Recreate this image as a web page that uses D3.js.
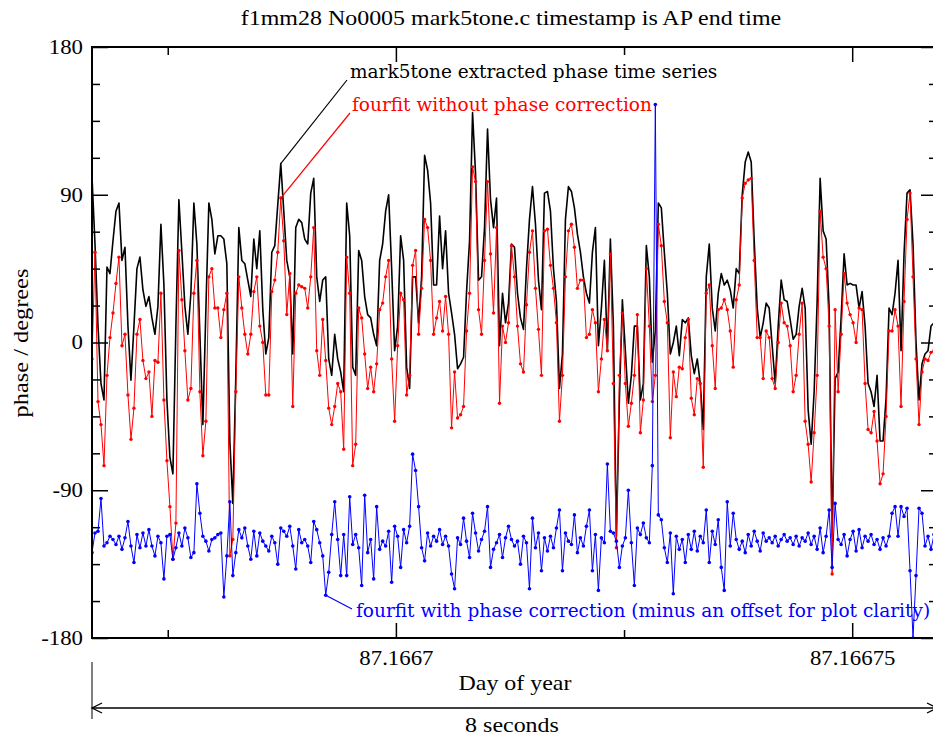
<!DOCTYPE html>
<html><head><meta charset="utf-8">
<script src="https://cdn.jsdelivr.net/npm/d3@7"></script>
<style>
html,body{margin:0;padding:0;background:#fff;}
svg{display:block;}
</style></head>
<body>
<script>
// Phase time series, 8 s of data starting at day 87.1666667 (04:00:00 UT)
const startDay = 87.1666667;
const spanSeconds = 8;
const sampleCount = 282;

// mark5tone extracted phase (degrees)
const mark5tonePhase = [
101,60,10,-25,-35,46,42,62,80,85,
50,58,10,-23,10,45,52,32,22,28,
15,5,22,72,35,-35,-70,-80,10,87,
55,22,5,30,85,60,5,-50,20,85,
75,54,65,65,63,48,-60,-98,-20,70,
50,48,38,28,63,45,68,20,-7,3,
55,59,84,109,80,50,40,-7,70,75,
73,63,60,91,100,40,25,38,40,-10,
-20,5,-10,-18,-30,85,65,-15,-20,56,
50,28,17,15,5,-2,50,60,80,90,
45,-5,10,65,50,-15,-28,40,40,12,
40,114,105,85,35,35,77,45,68,30,
18,5,-16,-13,-9,31,62,140,103,38,
40,70,130,87,70,88,-2,30,12,24,
60,58,30,15,8,45,75,95,72,38,
20,91,92,80,45,25,-28,-7,75,95,
92,82,66,55,40,30,24,55,70,-2,
21,50,-5,63,10,-118,-35,26,-5,-37,
-20,10,10,-35,-25,59,40,-12,7,85,
82,55,30,-7,0,10,-8,14,12,15,
-8,-19,-10,-25,-53,40,60,21,7,30,
42,35,38,32,21,45,42,90,110,116,
110,62,21,3,12,24,21,-2,-25,10,
38,26,25,14,2,5,22,33,21,-41,
-62,-30,25,100,68,63,21,-118,-22,-18,
15,54,35,36,35,35,21,31,10,-25,
-30,-39,-20,-60,-60,-34,21,17,30,50,
-5,54,91,93,60,0,-35,-13,-7,-5,
10,12
];

// fourfit phase without phase correction (degrees)
const fourfitRaw = [
-10,55,-36,-50,-75,-20,3,18,36,52,
-2,5,-32,-59,-40,5,14,-11,-22,-18,
-45,-11,-12,30,-35,-72,-100,-132,-110,56,
26,-5,-35,-28,30,50,-30,-69,-48,40,
45,21,21,3,20,30,-130,-120,-30,40,
21,5,-7,5,31,40,10,0,-32,-32,
31,38,55,88,62,17,42,-39,30,35,
34,33,21,40,70,-5,-20,14,-11,-40,
-50,-39,-25,-30,-65,52,30,-75,-62,21,
15,-7,-28,-15,-30,-13,20,24,40,50,
-10,-48,-2,30,26,-32,-20,47,56,5,
33,75,70,50,5,15,25,7,28,5,
-52,-18,-46,-44,-39,7,30,107,98,20,
5,50,98,54,18,70,-37,10,0,12,
59,40,10,-13,-18,23,55,68,33,8,
-20,68,69,47,33,12,-48,-20,40,68,
72,58,33,38,38,3,5,20,12,-30,
-10,14,-5,54,-25,-125,-20,18,-25,-51,
-37,-20,17,-55,-35,45,10,-36,-20,72,
59,25,12,-58,-18,-33,-15,-16,3,14,
-34,-44,-22,-25,-76,30,35,-2,-28,20,
21,26,20,7,-15,26,35,88,97,99,
100,50,3,3,-22,7,3,-22,-28,0,
24,12,10,-2,-30,-20,5,24,-48,-62,
-85,-55,-20,80,52,45,10,-141,20,-30,
5,42,24,17,12,0,21,20,-25,-53,
-55,-42,-60,-86,-80,-45,7,7,20,10,
-39,25,75,91,40,-10,-50,-18,-10,-11,
-6,-5
];

// fourfit phase with phase correction, offset downward (degrees)
const fourfitCorrected = [
-128,-116,-115,-95,-124,-122,-118,-120,-123,-118,
-126,-119,-109,-124,-134,-117,-125,-116,-124,-114,
-124,-130,-118,-122,-144,-118,-117,-132,-125,-116,
-124,-113,-119,-131,-128,-86,-104,-118,-121,-127,
-120,-119,-117,-116,-155,-130,-97,-142,-128,-114,
-119,-113,-124,-132,-115,-130,-116,-121,-124,-127,
-118,-122,-135,-113,-115,-118,-112,-124,-138,-114,
-122,-120,-124,-134,-109,-114,-122,-130,-154,-140,
-117,-97,-120,-142,-117,-142,-94,-123,-117,-125,
-148,-93,-128,-120,-144,-100,-126,-121,-124,-115,
-146,-112,-118,-137,-114,-122,-112,-68,-78,-100,
-125,-133,-116,-124,-118,-121,-114,-123,-118,-124,
-141,-150,-119,-123,-107,-121,-131,-104,-116,-127,
-120,-115,-100,-137,-126,-122,-117,-131,-119,-112,
-120,-124,-121,-135,-118,-122,-150,-107,-125,-116,
-139,-119,-127,-118,-125,-113,-102,-139,-116,-121,
-123,-105,-128,-119,-124,-112,-102,-139,-117,-151,
-119,-122,-74,-115,-116,-121,-137,-124,-119,-90,
-122,-148,-113,-117,-110,-119,-122,-75,145,-105,
-108,-125,-134,-116,-153,-118,-126,-120,-134,-117,
-126,-115,-127,-118,-122,-102,-134,-115,-123,-108,
-137,-151,-97,-124,-104,-120,-126,-121,-128,-117,
-124,-115,-121,-127,-116,-121,-119,-122,-118,-124,
-120,-117,-121,-119,-123,-118,-124,-119,-121,-116,
-123,-118,-126,-113,-128,-118,-102,-137,-98,-120,
-123,-117,-130,-120,-115,-127,-114,-125,-118,-121,
-117,-123,-120,-126,-119,-124,-118,-104,-100,-118,
-100,-106,-101,-139,-180,-142,-101,-104,-124,-118,
-126,-117
];

// Axis ticks
const xMajorTicks = [87.1667, 87.16675];
const xMinorTicks = [87.166675, 87.166725];
const yMajorTicks = [-180, -90, 0, 90, 180];
const yMinorTicks = [-157.5, -135, -112.5, -67.5, -45, -22.5, 22.5, 45, 67.5, 112.5, 135, 157.5];

const W = 933, H = 738;
const plot = {left: 92, top: 47, right: 937, bottom: 638};
const serif = "'Liberation Serif','Times New Roman',serif";
const wideSerif = "'DejaVu Serif',serif";
const serifStretch = 1.14;

const sampleStep = spanSeconds / 86400 / sampleCount;
const days = d3.range(sampleCount).map(i => startDay + i * sampleStep);

const x = d3.scaleLinear().domain([startDay, startDay + spanSeconds / 86400]).range([plot.left, plot.right]);
const y = d3.scaleLinear().domain([-180, 180]).range([plot.bottom, plot.top]);

const svg = d3.select("body").append("svg").attr("width", W).attr("height", H)
  .style("font-family", serif);

// Widen Times-style text horizontally
function widen(sel, k) {
  sel.each(function () {
    const w = this.getComputedTextLength();
    d3.select(this).attr("textLength", w * k).attr("lengthAdjust", "spacingAndGlyphs");
  });
}

svg.append("defs").append("clipPath").attr("id", "plotClip")
  .append("rect").attr("x", plot.left).attr("y", plot.top)
  .attr("width", plot.right - plot.left).attr("height", plot.bottom - plot.top);

// Title
svg.append("text").attr("x", 511).attr("y", 25).attr("text-anchor", "middle")
  .attr("font-size", 21).text("f1mm28 No0005 mark5tone.c timestamp is AP end time")
  .call(widen, serifStretch);

// Series
const seriesLayer = svg.append("g").attr("clip-path", "url(#plotClip)");
function drawSeries(values, color, width, markerR) {
  const pts = values.map((v, i) => [days[i], v]);
  const line = d3.line().x(d => x(d[0])).y(d => y(d[1]));
  seriesLayer.append("path").datum(pts).attr("fill", "none")
    .attr("stroke", color).attr("stroke-width", width)
    .attr("stroke-linejoin", "round").attr("d", line);
  if (markerR > 0) {
    seriesLayer.append("g").selectAll("circle").data(pts).join("circle")
      .attr("cx", d => x(d[0])).attr("cy", d => y(d[1])).attr("r", markerR)
      .attr("fill", color);
  }
}
drawSeries(mark5tonePhase, "#000", 1.6, 0);
drawSeries(fourfitRaw, "#ff0000", 1, 1.7);
drawSeries(fourfitCorrected, "#0000ff", 1, 1.8);

// Axes with inward ticks on all four sides
function styleAxis(g) {
  g.select(".domain").remove();
  g.selectAll(".tick line").attr("stroke", "#000").attr("stroke-width", 1.5);
  g.selectAll(".tick text").attr("fill", "#000").style("font-family", serif).attr("font-size", 20)
    .call(widen, serifStretch);
}
svg.append("g").attr("transform", `translate(${plot.left},0)`)
  .call(d3.axisLeft(y).tickValues(yMajorTicks).tickSize(-16).tickPadding(9).tickFormat(d => String(d)))
  .call(styleAxis);
svg.append("g").attr("transform", `translate(${plot.left},0)`)
  .call(d3.axisLeft(y).tickValues(yMinorTicks).tickSize(-8).tickFormat(""))
  .call(styleAxis);
svg.append("g").attr("transform", `translate(${plot.right},0)`)
  .call(d3.axisRight(y).tickValues(yMajorTicks).tickSize(-16).tickFormat(""))
  .call(styleAxis);
svg.append("g").attr("transform", `translate(${plot.right},0)`)
  .call(d3.axisRight(y).tickValues(yMinorTicks).tickSize(-8).tickFormat(""))
  .call(styleAxis);
const dayFormat = d => String(+d.toFixed(5));
svg.append("g").attr("transform", `translate(0,${plot.bottom})`)
  .call(d3.axisBottom(x).tickValues(xMajorTicks).tickSize(-15).tickPadding(13).tickFormat(dayFormat))
  .call(styleAxis);
svg.append("g").attr("transform", `translate(0,${plot.bottom})`)
  .call(d3.axisBottom(x).tickValues(xMinorTicks).tickSize(-8).tickFormat(""))
  .call(styleAxis);
svg.append("g").attr("transform", `translate(0,${plot.top})`)
  .call(d3.axisTop(x).tickValues(xMajorTicks).tickSize(-15).tickFormat(""))
  .call(styleAxis);
svg.append("g").attr("transform", `translate(0,${plot.top})`)
  .call(d3.axisTop(x).tickValues(xMinorTicks).tickSize(-8).tickFormat(""))
  .call(styleAxis);

// Frame
svg.append("rect").attr("x", plot.left).attr("y", plot.top)
  .attr("width", plot.right - plot.left).attr("height", plot.bottom - plot.top)
  .attr("fill", "none").attr("stroke", "#000").attr("stroke-width", 2);

// Axis titles
svg.append("text").attr("x", 515).attr("y", 690).attr("text-anchor", "middle")
  .attr("font-size", 21).text("Day of year").call(widen, serifStretch);
svg.append("text").attr("transform", "translate(28,343) rotate(-90)")
  .attr("text-anchor", "middle").attr("font-size", 21).text("phase / degrees")
  .call(widen, 1.16);

// Span marker: 8 seconds
const spanY = 708;
svg.append("line").attr("x1", plot.left).attr("x2", plot.left).attr("y1", 662).attr("y2", 719)
  .attr("stroke", "#000").attr("stroke-width", 1);
svg.append("line").attr("x1", x(startDay)).attr("x2", x(startDay + spanSeconds / 86400))
  .attr("y1", spanY).attr("y2", spanY).attr("stroke", "#000").attr("stroke-width", 1.3);
[[x(startDay), 1], [x(startDay + spanSeconds / 86400), -1]].forEach(([ax, dir]) => {
  svg.append("path").attr("d", `M${ax + dir * 10},${spanY - 5}L${ax},${spanY}L${ax + dir * 10},${spanY + 5}`)
    .attr("fill", "none").attr("stroke", "#000").attr("stroke-width", 1.3);
});
svg.append("text").attr("x", 512).attr("y", 732).attr("text-anchor", "middle")
  .attr("font-size", 21).text("8 seconds").call(widen, serifStretch);

// Series annotations with leader lines
const peakIdx = 63, dipIdx = 78;
const noteSize = 18.5;
svg.append("line").attr("x1", 347).attr("y1", 80)
  .attr("x2", x(days[peakIdx])).attr("y2", y(mark5tonePhase[peakIdx]))
  .attr("stroke", "#000").attr("stroke-width", 1.2);
svg.append("text").attr("x", 350).attr("y", 78).attr("font-size", noteSize)
  .style("font-family", wideSerif).attr("fill", "#000").text("mark5tone extracted phase time series");
svg.append("line").attr("x1", 350).attr("y1", 113)
  .attr("x2", x(days[peakIdx])).attr("y2", y(fourfitRaw[peakIdx]))
  .attr("stroke", "#ff0000").attr("stroke-width", 1.2);
svg.append("text").attr("x", 352).attr("y", 111).attr("font-size", noteSize)
  .style("font-family", wideSerif).attr("fill", "#ff0000").text("fourfit without phase correction");
svg.append("line").attr("x1", x(days[dipIdx])).attr("y1", y(fourfitCorrected[dipIdx]))
  .attr("x2", 352).attr("y2", 609)
  .attr("stroke", "#0000ff").attr("stroke-width", 1.2);
svg.append("text").attr("x", 356).attr("y", 617).attr("font-size", noteSize)
  .style("font-family", wideSerif).attr("fill", "#0000ff")
  .text("fourfit with phase correction (minus an offset for plot clarity)");
</script>
</body></html>
